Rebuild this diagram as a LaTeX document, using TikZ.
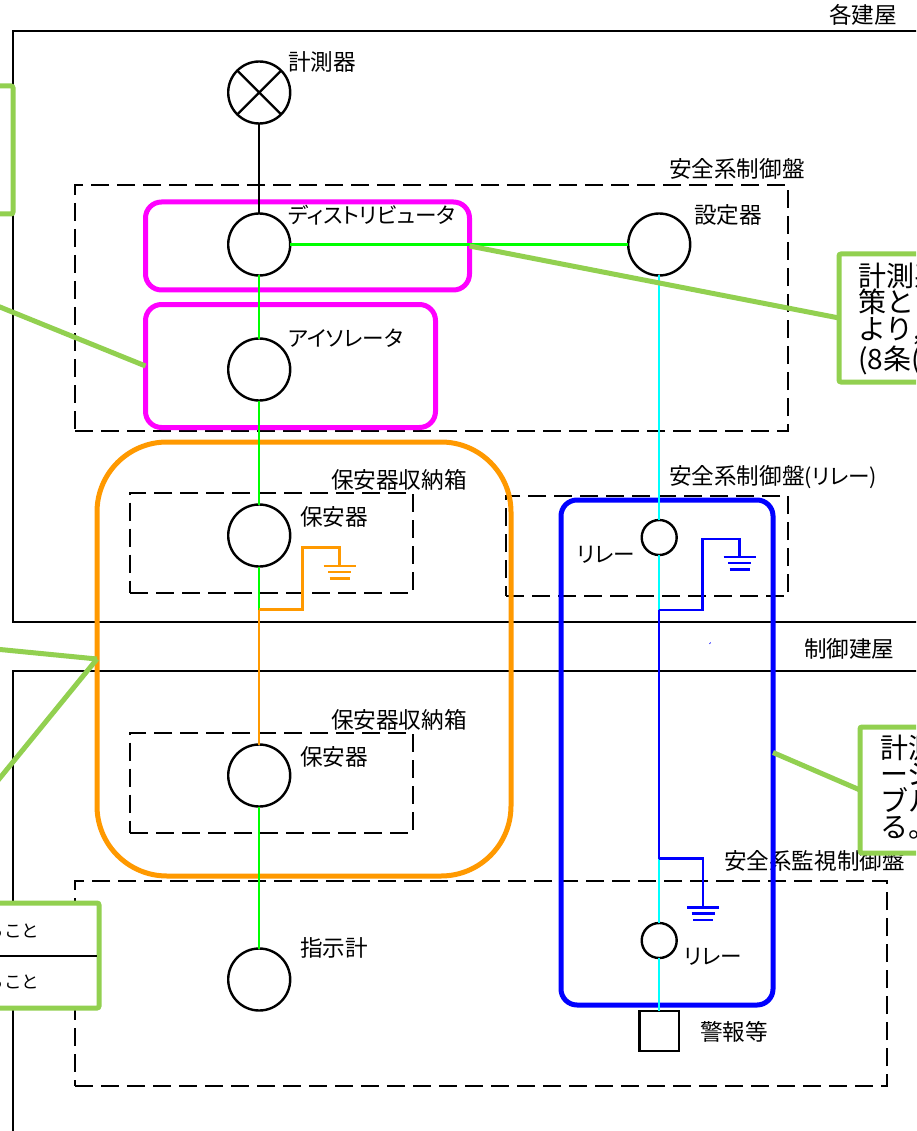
\documentclass[tikz,border=0pt]{standalone}
\usepackage{fontspec}
\setmainfont{Noto Sans CJK JP}
\newfontfamily\kana{Noto Sans CJK JP}[RawFeature=+palt]
\definecolor{cgreen}{HTML}{92D050}
\definecolor{corange}{HTML}{FF9900}
\newcommand{\kanalab}{\kana\fontsize{21.6}{24}\selectfont}
\tikzset{
  wall/.style={draw=black,line width=2pt},
  dashbox/.style={draw=black,line width=2pt,dash pattern=on 18pt off 8pt,inner sep=0,outer sep=0},
  dev/.style={circle,draw=black,fill=white,line width=2.4pt,inner sep=0,outer sep=0,minimum size=62pt},
  smalldev/.style={dev,minimum size=35pt},
  wire/.style={line width=2.2pt},
  greenw/.style={wire,draw={rgb,255:red,0;green,255;blue,0}},
  cyanw/.style={wire,draw={rgb,255:red,0;green,255;blue,255}},
  bluew/.style={wire,draw={rgb,255:red,0;green,0;blue,255}},
  orangew/.style={wire,draw=corange},
  frame/.style={rectangle,rounded corners=16pt,line width=5pt,inner sep=0,outer sep=0},
  callout/.style={rectangle,draw=cgreen,fill=white,rounded corners=2pt,line width=5pt,inner sep=0,outer sep=0},
  lead/.style={draw=cgreen,line width=5pt},
  lab/.style={anchor=west,inner sep=0,outer sep=0,font=\fontsize{22.6}{24}\selectfont},
  calltext/.style={anchor=north west,align=left,inner sep=0,outer sep=0,font=\fontsize{28}{26.4}\selectfont},
  gnd/.pic={\draw (-16,0)--(16,0) (-11.5,6)--(11.5,6) (-10,12.5)--(10,12.5);}
}
\begin{document}
\begin{tikzpicture}[x=1pt,y=-1pt]
\useasboundingbox (0,0) rectangle (916,1131);
\clip (0,0) rectangle (916,1131);
\fill[white] (0,0) rectangle (916,1131);
% buildings
\draw[wall] (930,31)--(13,31)--(13,622)--(930,622);
\draw[wall] (930,671)--(13,671)--(13,1140);
% dashed panels
\node[dashbox,minimum width=713pt,minimum height=246pt] (d1) at (431.5,308) {};
\node[dashbox,minimum width=283pt,minimum height=100pt] (d2) at (271.5,542.5) {};
\node[dashbox,minimum width=282pt,minimum height=100pt] (d3) at (647,546) {};
\node[dashbox,minimum width=283pt,minimum height=100pt] (d4) at (271.5,782.5) {};
\node[dashbox,minimum width=812pt,minimum height=205pt] (d5) at (481,983.5) {};
% labels
\node[lab] (t1) at (829,15) {各建屋};
\node[lab] (t2) at (288,62) {計測器};
\node[lab] (t3) at (669,169) {安全系制御盤};
\node[lab] (t4) at (288,215) {\kanalab ディストリビュータ};
\node[lab] (t5) at (694,215) {設定器};
\node[lab] (t6) at (288,338) {\kanalab アイソレータ};
\node[lab] (t7) at (331,480) {保安器収納箱};
\node[lab] (t8) at (300,517) {保安器};
\node[lab] (t9) at (669,477) {安全系制御盤{\kanalab (リレー)}};
\node[lab] (t10) at (577,555) {\kanalab リレー};
\node[lab] (t11) at (331,720) {保安器収納箱};
\node[lab] (t12) at (300,757) {保安器};
\node[lab] (t13) at (804,649) {制御建屋};
\node[lab] (t14) at (724,861) {安全系監視制御盤};
\node[lab] (t15) at (300,948) {指示計};
\node[lab] (t16) at (684,957) {\kanalab リレー};
\node[lab] (t17) at (700,1032) {警報等};
% frames
\node[frame,draw={rgb,255:red,255;green,0;blue,255},minimum width=324pt,minimum height=88pt] (mag1) at (307.5,246) {};
\node[frame,draw={rgb,255:red,255;green,0;blue,255},minimum width=290pt,minimum height=123pt] (mag2) at (290.5,366) {};
\node[frame,draw=corange,rounded corners=70pt,minimum width=414pt,minimum height=434pt] (org) at (304,659) {};
\node[frame,draw={rgb,255:red,0;green,0;blue,255},minimum width=212pt,minimum height=505pt] (blu) at (667,752.5) {};
% devices
\node[dev] (meter) at (259.2,92.5) {};
\draw[line width=2.4pt] (meter.north west)--(meter.south east) (meter.north east)--(meter.south west);
\node[dev] (dist) at (259.2,244.5) {};
\node[dev] (iso) at (259.2,369.5) {};
\node[dev] (prot1) at (259.2,535.5) {};
\node[dev] (prot2) at (259.2,775.5) {};
\node[dev] (ind) at (259.2,979.5) {};
\node[dev] (set) at (659.2,244.5) {};
\node[smalldev] (rel1) at (659.2,537.5) {};
\node[smalldev] (rel2) at (659.2,940.5) {};
\node[rectangle,draw=black,fill=white,line width=2.4pt,inner sep=0,outer sep=0,minimum size=39.5pt] (sq) at (659.2,1031) {};
% junctions
\coordinate (j1) at (259.2,609.5);
\coordinate (j2) at (659.2,610);
\coordinate (j3) at (659.2,858.5);
\coordinate (g1) at (339.5,566);
\coordinate (g2) at (739.5,557);
\coordinate (g3) at (703,907.5);
% wires
\draw[wire,draw=black] (meter)--(dist);
\draw[greenw] (dist)--(iso);
\draw[greenw] (iso)--(prot1);
\draw[greenw] (prot1)--(j1);
\draw[orangew] (j1)--(prot2);
\draw[greenw] (prot2)--(ind);
\draw[greenw] (dist)--(set);
\draw[cyanw] (set)--(rel1);
\draw[cyanw] (rel1)--(j2);
\draw[bluew] (j2)--(j3);
\draw[cyanw] (j3)--(rel2);
\draw[cyanw] (rel2)--(sq);
\draw[orangew] (j1)-|(302.5,547.5)-|(g1);
\draw[bluew] (j2)-|(702.5,539)-|(g2);
\draw[bluew] (j3)-|(g3);
\pic[orangew] at (g1) {gnd};
\pic[bluew] at (g2) {gnd};
\pic[bluew] at (g3) {gnd};
\coordinate (sp1) at (709.5,644); \coordinate (sp2) at (710.5,642.5);
\draw[bluew,line width=.7pt] (sp1)--(sp2);
% leads
\coordinate (f1) at (-5,305);
\coordinate (f2) at (-5,649);
\coordinate (f3) at (-5,784);
\node[callout,minimum width=120pt,minimum height=128pt] (cal0) at (-47,150) {};
\node[callout,minimum width=200pt,minimum height=105pt] (cal3) at (-1,955.5) {};
\node[callout,minimum width=200pt,minimum height=128pt] (cal1) at (939,318) {};
\node[callout,minimum width=200pt,minimum height=126pt] (cal2) at (960,790) {};
\draw[lead] (f1)--(mag2.west);
\draw[lead] (f2)--(org.west);
\draw[lead] (f3)--(org.west);
\draw[lead] (mag1.east)--(cal1.west);
\draw[lead] (blu.east)--(cal2.west);
% callout text
\coordinate (c3a) at (0,956); \coordinate (c3b) at (96.5,956);
\draw[line width=1.5pt] (c3a)--(c3b);
\node[anchor=east,inner sep=0,font=\fontsize{17.5}{19}\selectfont] (ct1) at (39.5,931) {ること};
\node[anchor=east,inner sep=0,font=\fontsize{17.5}{19}\selectfont] (ct2) at (39.5,982) {ること};
\node[calltext] (ct3) at (858.5,263) {計測系\\策とし\\より,\\(8条(};
\node[calltext] (ct4) at (880.5,735) {計測\\ージ\\ブル\\る。};
\end{tikzpicture}
\end{document}
